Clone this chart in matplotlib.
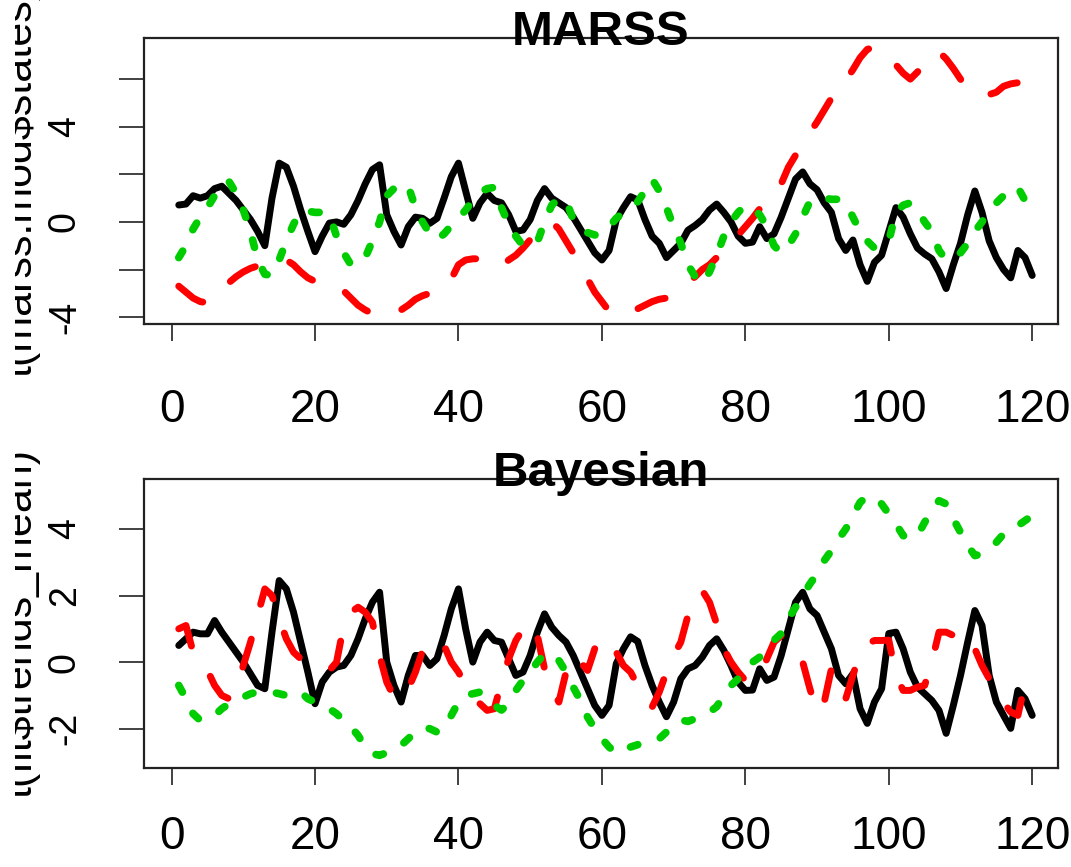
import matplotlib
matplotlib.use("Agg")
import matplotlib.pyplot as plt
from matplotlib.transforms import offset_copy, Bbox, TransformedBbox

plt.rcParams['font.family'] = ['Liberation Sans', 'DejaVu Sans']
plt.rcParams['axes.unicode_minus'] = False

t = list(range(1, 121))

# MARSS states
marss_black = [0.71, 0.75, 1.1, 1.0, 1.1, 1.4, 1.5, 1.2, 0.9, 0.5,
               0.1, -0.4, -1.0, 1.0, 2.47, 2.3, 1.5, 0.5, -0.4, -1.25,
               -0.6, -0.05, 0.0, -0.1, 0.3, 0.9, 1.6, 2.2, 2.4, 0.3,
               -0.4, -0.97, -0.2, 0.2, 0.15, -0.06, 0.15, 1.0, 1.9, 2.47,
               1.3, 0.15, 0.8, 1.2, 0.9, 0.8, 0.3, -0.4, -0.34, 0.1,
               0.9, 1.4, 1.0, 0.8, 0.6, 0.2, -0.3, -0.8, -1.3, -1.6,
               -1.2, 0.08, 0.6, 1.06, 0.92, 0.1, -0.6, -0.9, -1.5, -1.2,
               -0.9, -0.35, -0.15, 0.1, 0.5, 0.75, 0.4, 0.0, -0.6, -0.9,
               -0.85, -0.2, -0.7, -0.5, 0.2, 1.0, 1.8, 2.1, 1.6, 1.35,
               0.8, 0.4, -0.7, -1.2, -0.76, -1.8, -2.5, -1.7, -1.4, -0.4,
               0.6, 0.2, -0.5, -1.1, -1.35, -1.55, -2.1, -2.8, -1.8, -0.9,
               0.3, 1.3, 0.4, -0.8, -1.5, -2.0, -2.35, -1.2, -1.5, -2.25]
marss_red = [-2.7, -2.95, -3.2, -3.35, -3.4, -3.1, -2.8, -2.55, -2.3, -2.1,
             -1.95, -1.85, -1.75, -1.65, -1.6, -1.6, -1.8, -2.1, -2.35, -2.5,
             -2.55, -2.6, -2.65, -2.9, -3.2, -3.5, -3.7, -3.85, -3.9, -3.9,
             -3.85, -3.7, -3.5, -3.25, -3.1, -3.0, -2.9, -2.8, -2.4, -1.8,
             -1.6, -1.55, -1.55, -1.6, -1.8, -1.85, -1.6, -1.4, -1.1, -0.75,
             -0.45, -0.15, 0.0, -0.3, -0.8, -1.3, -1.8, -2.4, -2.95, -3.35,
             -3.75, -3.8, -3.9, -3.8, -3.65, -3.5, -3.35, -3.25, -3.2, -2.9,
             -2.75, -2.55, -2.3, -2.0, -1.8, -1.5, -1.2, -0.85, -0.55, -0.2,
             0.15, 0.55, 0.9, 1.3, 1.6, 2.3, 2.8, 3.25, 3.75, 4.2,
             4.7, 5.2, 5.7, 5.95, 6.4, 6.9, 7.25, 7.35, 7.2, 6.9,
             6.6, 6.25, 6.0, 6.3, 6.7, 7.05, 7.15, 6.85, 6.45, 6.0,
             5.6, 5.45, 5.35, 5.35, 5.45, 5.7, 5.8, 5.85, 5.9, 5.95]
marss_green = [-1.5, -1.0, -0.3, 0.2, 0.6, 1.1, 1.6, 1.7, 1.2, 0.5,
               -0.4, -1.6, -2.2, -2.25, -1.6, -0.8, -0.1, 0.45, 0.45, 0.4,
               0.4, 0.3, -0.6, -1.3, -1.8, -1.75, -1.5, -0.8, 0.0, 1.1,
               1.4, 1.6, 1.5, 0.6, 0.0, -0.5, -0.75, -0.5, -0.15, 0.15,
               0.5, 0.9, 1.25, 1.4, 1.45, 0.6, -0.1, -0.6, -1.0, -1.0,
               -0.85, 0.0, 0.7, 1.0, 0.9, 0.1, -0.3, -0.45, -0.55, -0.5,
               -0.2, 0.15, 0.4, 0.6, 0.85, 1.3, 1.8, 1.3, 0.6, -0.2,
               -0.9, -1.8, -2.3, -2.6, -2.1, -1.4, -0.6, 0.0, 0.4, 0.7,
               0.6, 0.3, -0.2, -1.0, -1.3, -1.0, -0.5, 0.2, 0.85, 1.0,
               1.0, 0.95, 0.95, 0.8, 0.2, -0.4, -0.8, -1.1, -1.0, -0.8,
               0.4, 0.7, 0.8, 0.5, 0.0, -0.4, -1.2, -1.6, -1.5, -1.3,
               -0.9, -0.4, 0.0, 0.5, 0.8, 1.1, 1.4, 1.45, 0.9, 0.4]

# Bayesian trend means
bayes_black = [0.5, 0.7, 0.9, 0.85, 0.85, 1.25, 0.9, 0.6, 0.3, 0.0,
               -0.35, -0.7, -0.8, 0.9, 2.45, 2.2, 1.5, 0.6, -0.3, -1.25,
               -0.6, -0.3, -0.15, -0.1, 0.2, 0.7, 1.3, 1.8, 2.1, 0.0,
               -0.7, -1.2, -0.4, 0.2, 0.2, -0.1, 0.1, 0.8, 1.6, 2.2,
               1.0, 0.0, 0.6, 0.9, 0.65, 0.6, 0.1, -0.4, -0.3, 0.2,
               0.9, 1.45, 1.05, 0.8, 0.6, 0.2, -0.3, -0.8, -1.3, -1.6,
               -1.3, -0.05, 0.4, 0.76, 0.62, -0.1, -0.7, -1.2, -1.64, -1.2,
               -0.5, -0.2, -0.1, 0.15, 0.5, 0.7, 0.35, -0.1, -0.6, -0.85,
               -0.84, -0.2, -0.55, -0.45, 0.2, 1.0, 1.8, 2.1, 1.6, 1.4,
               0.9, 0.4, -0.4, -0.65, -0.35, -1.4, -1.84, -1.2, -0.8, 0.86,
               0.9, 0.4, -0.3, -0.75, -0.95, -1.15, -1.45, -2.14, -1.3, -0.4,
               0.6, 1.55, 1.1, -0.4, -1.2, -1.6, -1.99, -0.85, -1.1, -1.6]
bayes_red = [1.0, 1.1, 0.3, 0.0, -0.25, -0.7, -1.0, -1.1, -0.8, -0.1,
             0.6, 1.4, 2.2, 2.0, 1.3, 0.7, 0.3, 0.1, 0.05, -0.05,
             -0.15, -0.25, 0.0, 1.1, 1.5, 1.65, 1.5, 1.2, 0.2, -0.6,
             -1.05, -1.1, -0.8, -0.3, 0.35, 0.6, 0.7, 0.5, 0.0, -0.3,
             -0.7, -1.0, -1.25, -1.45, -1.4, -0.6, 0.1, 0.65, 1.0, 1.2,
             0.8, -0.2, -0.8, -1.2, -0.3, 0.2, 0.0, -0.25, 0.4, 0.7,
             0.7, 0.3, -0.1, -0.3, -0.7, -1.1, -1.35, -0.9, -0.3, 0.2,
             0.6, 1.4, 1.9, 2.15, 1.8, 1.15, 0.4, 0.0, -0.3, -0.55,
             -0.5, -0.45, 0.1, 0.6, 0.8, 0.6, 0.3, 0.0, -0.8, -1.5,
             -1.2, -0.2, -0.7, -1.1, -0.4, 0.3, 0.55, 0.65, 0.65, 0.66,
             -0.4, -0.85, -0.85, -0.75, -0.7, 0.0, 0.9, 0.9, 0.8, 0.9,
             0.85, 0.4, -0.1, -0.5, -0.9, -1.2, -1.5, -1.6, -0.65, -0.9]
bayes_green = [-0.7, -1.1, -1.55, -1.75, -1.7, -1.6, -1.4, -1.25, -1.15, -1.05,
               -0.95, -0.9, -0.9, -0.9, -0.95, -1.0, -0.9, -0.9, -1.1, -1.2,
               -1.3, -1.4, -1.55, -1.75, -1.95, -2.2, -2.55, -2.75, -2.8, -2.72,
               -2.65, -2.5, -2.3, -2.1, -1.95, -2.0, -2.1, -2.0, -1.6, -1.2,
               -1.0, -0.95, -0.9, -1.1, -1.3, -1.44, -1.25, -0.85, -0.55, -0.3,
               0.0, 0.25, 0.25, 0.05, -0.3, -0.75, -1.15, -1.65, -2.0, -2.3,
               -2.55, -2.74, -2.65, -2.55, -2.48, -2.4, -2.35, -2.3, -2.1, -1.9,
               -1.74, -1.78, -1.7, -1.6, -1.5, -1.34, -1.0, -0.7, -0.5, -0.25,
               0.0, 0.15, 0.4, 0.66, 0.86, 1.3, 1.65, 2.0, 2.35, 2.65,
               3.05, 3.35, 3.7, 4.0, 4.4, 4.8, 4.98, 4.95, 4.75, 4.45,
               4.15, 3.8, 3.72, 3.8, 4.2, 4.55, 4.85, 4.75, 4.3, 3.9,
               3.5, 3.2, 3.25, 3.4, 3.6, 3.85, 3.95, 4.1, 4.25, 4.4]

x_ticks = [0, 20, 40, 60, 80, 100, 120]
top_yticks = [-4, -2, 0, 2, 4, 6]
top_ylabels = ['-4', '', '0', '', '4', '']
bot_yticks = [-2, 0, 2, 4]
bot_ylabels = ['-2', '0', '2', '4']


def draw_panel(fig, rect, black, red, green, ylim, yticks, ylabels, title, ylabel, xpad):
    ax = fig.add_axes(rect)
    lw = 5.0
    ax.plot(t, black, color='black', lw=lw, solid_capstyle='round', solid_joinstyle='round')
    ax.plot(t, red, color='#ff0000', lw=lw, dashes=(4.2, 5.2),
            dash_capstyle='round', dash_joinstyle='round')
    ax.plot(t, green, color='#00cd00', lw=lw + 0.5, dashes=(1.0, 3.1),
            dash_capstyle='round', dash_joinstyle='round')
    ax.set_xlim(-3.84, 123.6)
    ax.set_ylim(*ylim)
    for sp in ax.spines.values():
        sp.set_linewidth(1.6)
        sp.set_color('#222222')
    ax.set_xticks(x_ticks)
    ax.set_xticklabels([str(v) for v in x_ticks], fontsize=33)
    ax.tick_params(axis='x', length=12, width=1.3, pad=xpad, color='#333333')
    ax.set_yticks(yticks)
    ax.set_yticklabels(ylabels, fontsize=27, rotation=90, va='center')
    ax.tick_params(axis='y', length=18, width=1.3, pad=26, color='#333333')
    tr = offset_copy(ax.transAxes, fig=fig, x=0, y=-7, units='dots')
    ax.text(0.5, 1.0, title, transform=tr, ha='center', va='baseline',
            fontsize=35.5, fontweight='bold', zorder=10, clip_on=False)
    pos = ax.get_position()
    lab = fig.text(40 / 1071, (pos.y0 + pos.y1) / 2, ylabel, rotation=90,
                   ha='right', va='center', fontsize=31)
    # the left part of the label is cropped in the original
    lab.set_clip_box(TransformedBbox(Bbox([[15 / 1071, 0], [1, 1]]), fig.transFigure))
    lab.set_clip_on(True)
    return ax


fig = plt.figure(figsize=(10.71, 8.67), dpi=100)
draw_panel(fig, [0.1345, 0.6263, 0.8534, 0.3302], marss_black, marss_red, marss_green,
           (-4.29, 7.74), top_yticks, top_ylabels, 'MARSS', 't(marss.mod$states)', 34)
draw_panel(fig, [0.1345, 0.1142, 0.8534, 0.3333], bayes_black, bayes_red, bayes_green,
           (-3.18, 5.5), bot_yticks, bot_ylabels, 'Bayesian', 't(fit$trends_mean)', 22)

fig.savefig('out.png', dpi=100)
